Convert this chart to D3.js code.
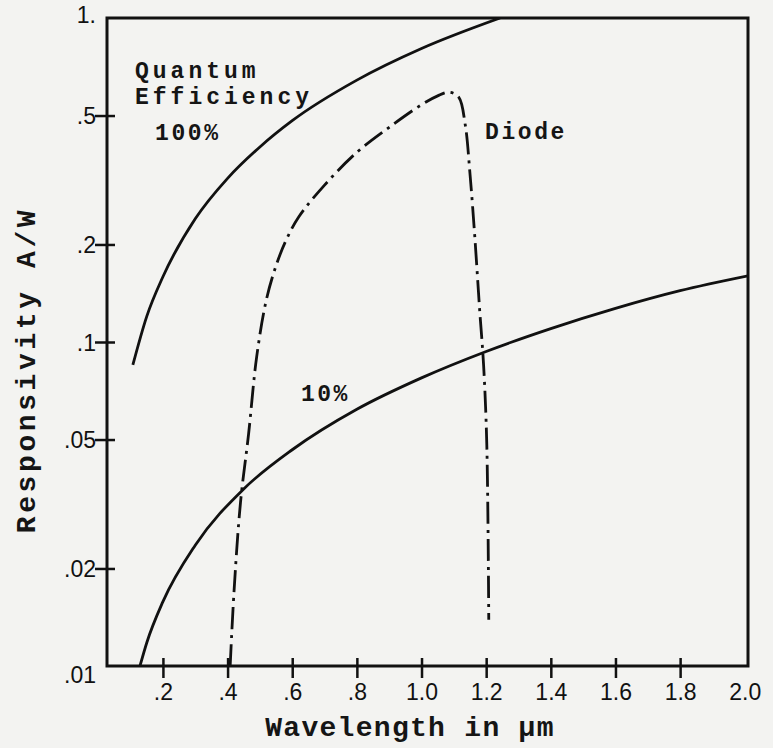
<!DOCTYPE html>
<html>
<head>
<meta charset="utf-8">
<script src="https://cdn.jsdelivr.net/npm/d3@7"></script>
<style>
  body { margin: 0; background: #f3f3f1; }
  svg { display: block; }
  .note { font-family: "Liberation Mono", "DejaVu Sans Mono", monospace; font-weight: bold; fill: #151515; }
</style>
</head>
<body>
<div id="chart"></div>
<script>
//svg size
var svgWidth = 773;
var svgHeight = 748;

//plot box
var margin = { top: 18, right: 25, bottom: 82, left: 107 };
var width = svgWidth - margin.left - margin.right;
var height = svgHeight - margin.top - margin.bottom;

//x ticks (µm) and y ticks (A/W)
var xTicks = [0.2, 0.4, 0.6, 0.8, 1.0, 1.2, 1.4, 1.6, 1.8, 2.0];
var xTickLabels = [".2", ".4", ".6", ".8", "1.0", "1.2", "1.4", "1.6", "1.8", "2.0"];
var yTicks = [0.01, 0.02, 0.05, 0.1, 0.2, 0.5, 1];
var yTickLabels = [".01", ".02", ".05", ".1", ".2", ".5", "1."];

//100% quantum efficiency curve
var qe100Wave = [0.107, 0.15, 0.20, 0.30, 0.40, 0.50, 0.60, 0.80, 1.00, 1.243];
var qe100Resp = [0.085, 0.120, 0.159, 0.240, 0.320, 0.400, 0.482, 0.643, 0.805, 1.0];

//10% quantum efficiency curve
var qe10Wave = [0.129, 0.15, 0.20, 0.30, 0.45, 0.60, 0.80, 1.00, 1.20, 1.40, 1.60, 1.80, 2.01];
var qe10Resp = [0.0100, 0.0118, 0.0158, 0.0236, 0.0352, 0.0465, 0.0620, 0.0775, 0.0935, 0.110, 0.127, 0.144, 0.160];

//diode response (dash-dot line)
var diodeWave = [0.408, 0.420, 0.440, 0.465, 0.490, 0.520, 0.550, 0.580, 0.620, 0.700, 0.800, 0.900, 1.000, 1.050, 1.085, 1.115, 1.135, 1.150, 1.165, 1.180, 1.192, 1.202, 1.208];
var diodeResp = [0.0100, 0.0170, 0.0320, 0.0520, 0.090, 0.135, 0.172, 0.205, 0.243, 0.305, 0.385, 0.460, 0.540, 0.575, 0.590, 0.570, 0.470, 0.330, 0.210, 0.125, 0.085, 0.048, 0.0139];

var svg = d3.select("#chart")
    .append("svg")
    .attr("width", svgWidth)
    .attr("height", svgHeight);

var chartGroup = svg.append("g")
    .attr("transform", `translate(${margin.left}, ${margin.top})`);

//scales
var xScale = d3.scaleLinear()
    .domain([0.027, 2.01])
    .range([0, width]);

var yScale = d3.scaleLog()
    .domain([0.01, 1])
    .range([height, 0]);

//axes, ticks cross the frame
var bottomAxis = d3.axisBottom(xScale)
    .tickValues(xTicks)
    .tickSize(0)
    .tickFormat((d, i) => xTickLabels[i]);

var leftAxis = d3.axisLeft(yScale)
    .tickValues(yTicks)
    .tickSize(0)
    .tickFormat((d, i) => yTickLabels[i]);

var xAxis = chartGroup.append("g")
    .attr("transform", `translate(0, ${height})`)
    .call(bottomAxis);
xAxis.select(".domain").remove();
xAxis.selectAll(".tick line")
    .attr("y1", -8).attr("y2", 12)
    .attr("stroke", "#111").attr("stroke-width", 2.5);
xAxis.selectAll(".tick text")
    .attr("dy", 0).attr("y", 34)
    .attr("font-family", "Liberation Sans, Arial, sans-serif")
    .attr("font-size", 23)
    .attr("fill", "#111");

var yAxis = chartGroup.append("g")
    .call(leftAxis);
yAxis.select(".domain").remove();
yAxis.selectAll(".tick line")
    .attr("x1", -12).attr("x2", 8)
    .attr("stroke", "#111").attr("stroke-width", 2.5);
yAxis.selectAll(".tick text")
    .attr("x", -11).attr("dy", "0.35em")
    .attr("font-family", "Liberation Sans, Arial, sans-serif")
    .attr("font-size", 23)
    .attr("fill", "#111");
//no tick marks at the frame corners
xAxis.selectAll(".tick").filter(d => d === 2.0).select("line").remove();
yAxis.selectAll(".tick").filter(d => d === 0.01 || d === 1).select("line").remove();
yAxis.selectAll(".tick").filter(d => d === 0.01).select("text").attr("y", 8);
yAxis.selectAll(".tick").filter(d => d === 1).select("text").attr("y", -4);

//frame
chartGroup.append("rect")
    .attr("x", 0).attr("y", 0)
    .attr("width", width).attr("height", height)
    .attr("fill", "none")
    .attr("stroke", "#111")
    .attr("stroke-width", 3);

//clip curves to the frame
svg.append("defs").append("clipPath").attr("id", "plotclip")
    .append("rect").attr("width", width).attr("height", height);

var line = d3.line()
    .x(d => xScale(d[0]))
    .y(d => yScale(d[1]))
    .curve(d3.curveMonotoneX);

var lineD = d3.line()
    .x(d => xScale(d[0]))
    .y(d => yScale(d[1]))
    .curve(d3.curveCatmullRom.alpha(0.5));

var curves = chartGroup.append("g").attr("clip-path", "url(#plotclip)");

curves.append("path")
    .datum(d3.zip(qe100Wave, qe100Resp))
    .attr("d", line)
    .attr("fill", "none").attr("stroke", "#111").attr("stroke-width", 2.8);

curves.append("path")
    .datum(d3.zip(qe10Wave, qe10Resp))
    .attr("d", line)
    .attr("fill", "none").attr("stroke", "#111").attr("stroke-width", 2.8);

curves.append("path")
    .datum(d3.zip(diodeWave, diodeResp))
    .attr("d", lineD)
    .attr("fill", "none").attr("stroke", "#111").attr("stroke-width", 2.8)
    .attr("stroke-dasharray", "22,6,3,6");

//annotations
var notes = [
    { t: "Quantum", x: 135, y: 77.5, ls: 4.0 },
    { t: "Efficiency", x: 135, y: 104, ls: 4.0 },
    { t: "100%", x: 155, y: 140, ls: 2.6 },
    { t: "Diode", x: 485, y: 139, ls: 2.6 },
    { t: "10%", x: 301, y: 401, ls: 2.4 }
];
svg.selectAll("text.note")
    .data(notes)
    .enter()
    .append("text")
    .attr("class", "note")
    .attr("x", d => d.x)
    .attr("y", d => d.y)
    .attr("font-size", 23)
    .attr("letter-spacing", d => d.ls)
    .text(d => d.t);

//axis titles
svg.append("text")
    .attr("class", "note")
    .attr("x", 410)
    .attr("y", 736)
    .attr("text-anchor", "middle")
    .attr("font-size", 28)
    .attr("letter-spacing", 1.3)
    .text("Wavelength in µm");

svg.append("text")
    .attr("class", "note")
    .attr("transform", "translate(35, 370) rotate(-90)")
    .attr("text-anchor", "middle")
    .attr("font-size", 28)
    .attr("letter-spacing", 3.6)
    .text("Responsivity A/W");
</script>
</body>
</html>
